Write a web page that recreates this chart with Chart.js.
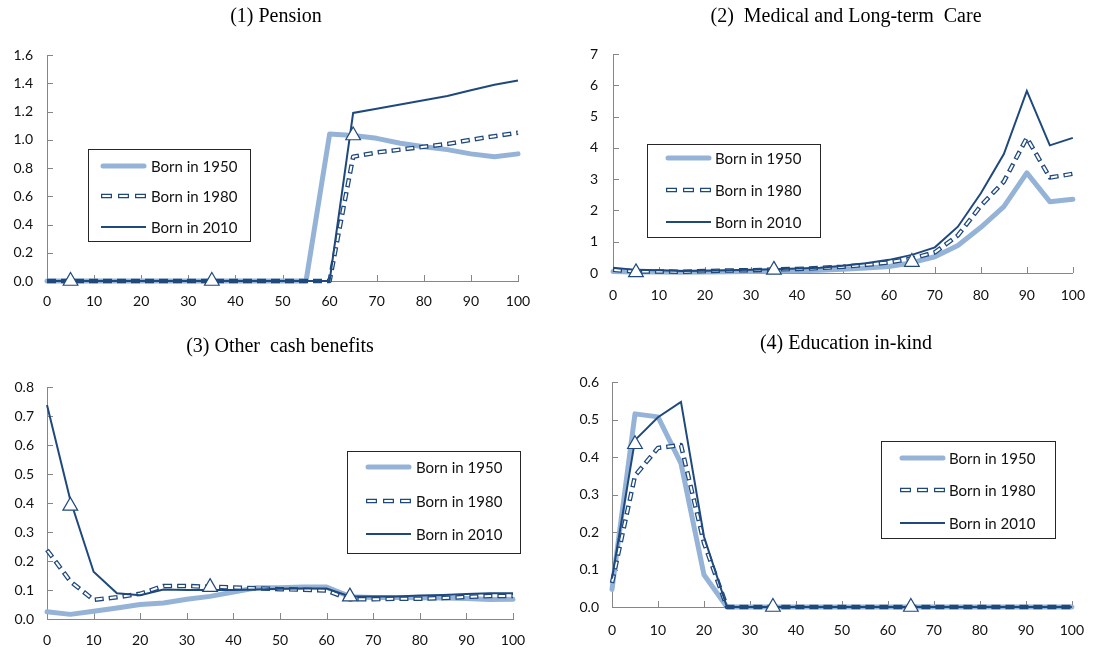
<!DOCTYPE html>
<html>
<head>
<meta charset="utf-8">
<title>Benefits by age and cohort</title>
<script src="https://cdn.jsdelivr.net/npm/chart.js@4.4.1/dist/chart.umd.min.js"></script>
<style>
  html, body { margin: 0; padding: 0; background: #ffffff; }
  body { width: 1099px; height: 653px; position: relative; overflow: hidden; }
  canvas { position: absolute; display: block; }
</style>
</head>
<body>
<canvas id="c1" width="549" height="326" style="left:0;top:0"></canvas>
<canvas id="c2" width="550" height="326" style="left:549px;top:0"></canvas>
<canvas id="c3" width="549" height="327" style="left:0;top:326px"></canvas>
<canvas id="c4" width="550" height="327" style="left:549px;top:326px"></canvas>
<script>
// ---- data -------------------------------------------------------------
const ages = [0, 5, 10, 15, 20, 25, 30, 35, 40, 45, 50, 55, 60, 65, 70, 75, 80, 85, 90, 95, 100];
const markerAges = [5, 35, 65];
const seriesNames = ['Born in 1950', 'Born in 1980', 'Born in 2010'];
const ageTickLabels = ['0', '10', '20', '30', '40', '50', '60', '70', '80', '90', '100'];

// (1) Pension
const pensionTitle = '(1) Pension';
const pension1950 = [0, 0, 0, 0, 0, 0, 0, 0, 0, 0, 0, 0, 1.04, 1.03, 1.01, 0.975, 0.95, 0.93, 0.90, 0.88, 0.90];
const pension1980 = [0, 0, 0, 0, 0, 0, 0, 0, 0, 0, 0, 0, 0, 0.88, 0.91, 0.93, 0.95, 0.97, 1.00, 1.025, 1.05];
const pension2010 = [0, 0, 0, 0, 0, 0, 0, 0, 0, 0, 0, 0, 0, 1.19, 1.22, 1.25, 1.28, 1.31, 1.35, 1.39, 1.42];
const pensionMarkers = [0, 0, 1.03];
const pensionTicks = ['0.0', '0.2', '0.4', '0.6', '0.8', '1.0', '1.2', '1.4', '1.6'];

// (2) Medical and long-term care
const medicalTitle = '(2)  Medical and Long-term  Care';
const medical1950 = [0.05, 0.03, 0.03, 0.02, 0.03, 0.04, 0.05, 0.06, 0.07, 0.09, 0.12, 0.16, 0.21, 0.33, 0.52, 0.88, 1.46, 2.12, 3.20, 2.28, 2.36];
const medical1980 = [0.10, 0.05, 0.05, 0.04, 0.06, 0.08, 0.09, 0.11, 0.13, 0.16, 0.20, 0.26, 0.34, 0.46, 0.66, 1.20, 2.15, 2.92, 4.32, 3.05, 3.17];
const medical2010 = [0.17, 0.10, 0.09, 0.06, 0.07, 0.09, 0.10, 0.12, 0.14, 0.17, 0.23, 0.31, 0.42, 0.58, 0.82, 1.48, 2.55, 3.80, 5.82, 4.08, 4.32];
const medicalMarkers = [0.02, 0.10, 0.35];
const medicalTicks = ['0', '1', '2', '3', '4', '5', '6', '7'];

// (3) Other cash benefits
const cashTitle = '(3) Other  cash benefits';
const cash1950 = [0.025, 0.016, 0.027, 0.038, 0.050, 0.055, 0.068, 0.078, 0.093, 0.108, 0.108, 0.110, 0.110, 0.077, 0.074, 0.074, 0.073, 0.072, 0.071, 0.067, 0.068];
const cash1980 = [0.238, 0.130, 0.066, 0.075, 0.087, 0.114, 0.114, 0.111, 0.109, 0.106, 0.103, 0.101, 0.098, 0.068, 0.068, 0.070, 0.070, 0.072, 0.076, 0.079, 0.079];
const cash2010 = [0.738, 0.410, 0.163, 0.089, 0.082, 0.102, 0.100, 0.100, 0.100, 0.102, 0.104, 0.105, 0.105, 0.078, 0.078, 0.078, 0.081, 0.083, 0.086, 0.089, 0.089];
const cashMarkers = [0.39, 0.11, 0.077];
const cashTicks = ['0.0', '0.1', '0.2', '0.3', '0.4', '0.5', '0.6', '0.7', '0.8'];

// (4) Education in-kind
const eduTitle = '(4) Education in-kind';
const edu1950 = [0.047, 0.515, 0.507, 0.383, 0.086, 0, 0, 0, 0, 0, 0, 0, 0, 0, 0, 0, 0, 0, 0, 0, 0];
const edu1980 = [0.064, 0.350, 0.424, 0.432, 0.171, 0, 0, 0, 0, 0, 0, 0, 0, 0, 0, 0, 0, 0, 0, 0, 0];
const edu2010 = [0.076, 0.445, 0.506, 0.547, 0.188, 0, 0, 0, 0, 0, 0, 0, 0, 0, 0, 0, 0, 0, 0, 0, 0];
const eduMarkers = [0.434, 0, 0];
const eduTicks = ['0.0', '0.1', '0.2', '0.3', '0.4', '0.5', '0.6'];

// ---- styling ----------------------------------------------------------
const LIGHT = '#95B3D7';
const DARK = '#1F497D';
const AXIS = '#868686';
const TEXT = '#111111';
const TICK_FONT = { family: 'Lato, "Open Sans", sans-serif', size: 14 };
const LEGEND_FONT = '15px Lato, "Open Sans", sans-serif';
const TITLE_FONT = '20px "Liberation Serif", "Times New Roman", serif';

// 1980 cohort: dark dashed outline with a pale core on top
const DASH_OUT = [9, 5];
const DASH_IN = [6.5, 7.5];
const DASH_IN_OFFSET = 12.75;
const LEGEND_DASH_OUT = [11, 6];
const LEGEND_DASH_IN = [8.5, 8.5];
const LEGEND_DASH_IN_OFFSET = 15.75;

const panels = [
  { canvas: 'c1', title: pensionTitle, series: [pension1950, pension1980, pension2010], markers: pensionMarkers,
    ticks: pensionTicks, yMax: 1.6, yStep: 0.2,
    box: { left: 0, top: 0, width: 549, height: 326 }, area: { left: 47, right: 518, top: 55, bottom: 281 },
    titleX: 276, titleBase: 22, xPad: 12, yPad: 14,
    legend: { x: 88, y: 149, w: 162, h: 92, rows: [166, 196, 227], sx: 101, sw: 45, tx: 151 } },
  { canvas: 'c2', title: medicalTitle, series: [medical1950, medical1980, medical2010], markers: medicalMarkers,
    ticks: medicalTicks, yMax: 7, yStep: 1,
    box: { left: 549, top: 0, width: 550, height: 326 }, area: { left: 613, right: 1079, top: 54, bottom: 273 },
    titleX: 846, titleBase: 22, xPad: 14, yPad: 15,
    legend: { x: 647, y: 144, w: 173, h: 93, rows: [158, 190, 222], sx: 666, sw: 45, tx: 715 } },
  { canvas: 'c3', title: cashTitle, series: [cash1950, cash1980, cash2010], markers: cashMarkers,
    ticks: cashTicks, yMax: 0.8, yStep: 0.1,
    box: { left: 0, top: 326, width: 549, height: 327 }, area: { left: 47, right: 513, top: 387, bottom: 619 },
    titleX: 280, titleBase: 352, xPad: 13, yPad: 13,
    legend: { x: 347, y: 451, w: 173, h: 102, rows: [467, 501, 534], sx: 366, sw: 45, tx: 416 } },
  { canvas: 'c4', title: eduTitle, series: [edu1950, edu1980, edu2010], markers: eduMarkers,
    ticks: eduTicks, yMax: 0.6, yStep: 0.1,
    box: { left: 549, top: 326, width: 550, height: 327 }, area: { left: 612, right: 1079, top: 382, bottom: 607 },
    titleX: 846, titleBase: 349, xPad: 15, yPad: 13,
    legend: { x: 881, y: 441, w: 174, h: 97, rows: [458, 490, 523], sx: 900, sw: 45, tx: 949 } }
];

// ---- drawing helpers --------------------------------------------------
function strokeSample(ctx, x0, x1, y) {
  ctx.beginPath();
  ctx.moveTo(x0, y);
  ctx.lineTo(x1, y);
  ctx.stroke();
}

function drawLegend(ctx, p) {
  const ox = p.box.left, oy = p.box.top, lg = p.legend;
  const x = lg.x - ox, y = lg.y - oy;
  ctx.save();
  ctx.fillStyle = '#ffffff';
  ctx.fillRect(x, y, lg.w, lg.h);
  ctx.strokeStyle = '#262626';
  ctx.lineWidth = 1;
  ctx.strokeRect(Math.round(x) + 0.5, Math.round(y) + 0.5, lg.w, lg.h);

  const sx0 = lg.sx - ox, sx1 = lg.sx + lg.sw - ox;
  lg.rows.forEach((ry, i) => {
    const yy = ry - oy;
    ctx.setLineDash([]);
    if (i === 0) {
      ctx.strokeStyle = LIGHT; ctx.lineWidth = 5; ctx.lineCap = 'round';
      strokeSample(ctx, sx0 + 2, sx1 - 2, yy);
    } else if (i === 1) {
      ctx.lineCap = 'butt';
      ctx.strokeStyle = DARK; ctx.lineWidth = 4.5; ctx.setLineDash(LEGEND_DASH_OUT); ctx.lineDashOffset = 0;
      strokeSample(ctx, sx0, sx1, yy);
      ctx.strokeStyle = '#ffffff'; ctx.lineWidth = 2; ctx.setLineDash(LEGEND_DASH_IN); ctx.lineDashOffset = LEGEND_DASH_IN_OFFSET;
      strokeSample(ctx, sx0, sx1, yy);
      ctx.lineDashOffset = 0;
    } else {
      ctx.strokeStyle = DARK; ctx.lineWidth = 2; ctx.lineCap = 'butt';
      strokeSample(ctx, sx0, sx1, yy);
    }
    ctx.setLineDash([]);
    ctx.fillStyle = TEXT;
    ctx.font = LEGEND_FONT;
    ctx.textBaseline = 'middle';
    ctx.textAlign = 'left';
    ctx.fillText(seriesNames[i], lg.tx - ox, yy + 1);
  });
  ctx.restore();
}

const panelDecor = {
  id: 'panelDecor',
  beforeDatasetsDraw(chart) {
    // short tick marks pointing into the plot area
    const ctx = chart.ctx, a = chart.chartArea, xs = chart.scales.x, ys = chart.scales.y;
    ctx.save();
    ctx.strokeStyle = AXIS;
    ctx.lineWidth = 1;
    ctx.beginPath();
    xs.ticks.forEach(t => {
      const px = Math.round(xs.getPixelForValue(t.value)) + 0.5;
      ctx.moveTo(px, a.bottom);
      ctx.lineTo(px, a.bottom - 6);
    });
    ys.ticks.forEach(t => {
      const py = Math.round(ys.getPixelForValue(t.value)) + 0.5;
      ctx.moveTo(a.left, py);
      ctx.lineTo(a.left + 6, py);
    });
    ctx.stroke();
    ctx.restore();
  },
  afterDraw(chart, args, opts) {
    const p = opts.panel;
    const ctx = chart.ctx;
    ctx.save();
    ctx.fillStyle = '#000000';
    ctx.font = TITLE_FONT;
    ctx.textAlign = 'center';
    ctx.textBaseline = 'alphabetic';
    ctx.fillText(p.title, p.titleX - p.box.left, p.titleBase - p.box.top);
    ctx.restore();
    drawLegend(ctx, p);
  }
};

function points(xs, ys) {
  return xs.map((x, i) => ({ x: x, y: ys[i] }));
}

function buildPanel(p) {
  const [s1950, s1980, s2010] = p.series;
  const datasets = [
    { label: seriesNames[0], data: points(ages, s1950), borderColor: LIGHT, borderWidth: 5,
      borderCapStyle: 'round', borderJoinStyle: 'round', pointRadius: 0, order: 4, clip: false },
    { label: seriesNames[1], data: points(ages, s1980), borderColor: DARK, borderWidth: 4.5,
      borderDash: DASH_OUT, borderJoinStyle: 'round', pointRadius: 0, order: 3, clip: false },
    { label: seriesNames[1] + ' core', data: points(ages, s1980), borderColor: '#ffffff', borderWidth: 2,
      borderDash: DASH_IN, borderDashOffset: DASH_IN_OFFSET, borderJoinStyle: 'round', pointRadius: 0, order: 2, clip: false },
    { label: seriesNames[2], data: points(ages, s2010), borderColor: DARK, borderWidth: 2,
      borderJoinStyle: 'miter', pointRadius: 0, order: 1, clip: false },
    { label: 'markers', data: points(markerAges, p.markers), showLine: false, pointStyle: 'triangle',
      pointRadius: 8.5, pointBackgroundColor: '#ffffff', pointBorderColor: DARK, pointBorderWidth: 1.2,
      order: 0, clip: false }
  ];

  const yWidth = p.area.left - p.box.left;
  const xHeight = p.box.top + p.box.height - p.area.bottom;

  return new Chart(document.getElementById(p.canvas), {
    type: 'line',
    data: { datasets: datasets },
    options: {
      responsive: false,
      animation: false,
      devicePixelRatio: 1,
      events: [],
      elements: { line: { tension: 0 } },
      layout: { padding: { top: p.area.top - p.box.top, right: p.box.left + p.box.width - p.area.right, bottom: 0, left: 0 } },
      plugins: {
        legend: { display: false },
        tooltip: { enabled: false },
        title: { display: false },
        panelDecor: { panel: p }
      },
      scales: {
        x: {
          type: 'linear', min: 0, max: 100,
          grid: { display: false, drawTicks: false },
          border: { display: true, color: AXIS, width: 1 },
          ticks: { stepSize: 10, autoSkip: false, maxRotation: 0, padding: p.xPad, color: TEXT, font: TICK_FONT,
                   callback: v => ageTickLabels[Math.round(v / 10)] },
          afterFit: s => { s.height = xHeight; }
        },
        y: {
          type: 'linear', min: 0, max: p.yMax,
          grid: { display: false, drawTicks: false },
          border: { display: true, color: AXIS, width: 1 },
          ticks: { stepSize: p.yStep, autoSkip: false, padding: p.yPad, color: TEXT, font: TICK_FONT,
                   callback: v => p.ticks[Math.round(v / p.yStep)] },
          afterFit: s => { s.width = yWidth; }
        }
      }
    },
    plugins: [panelDecor]
  });
}

function buildAll() { panels.forEach(buildPanel); }

const fontLoads = document.fonts ? Promise.all([
  document.fonts.load('14px Lato'),
  document.fonts.load('15px Lato'),
  document.fonts.load('20px "Liberation Serif"')
]).catch(() => null) : Promise.resolve();
fontLoads.then(buildAll, buildAll);
</script>
</body>
</html>
